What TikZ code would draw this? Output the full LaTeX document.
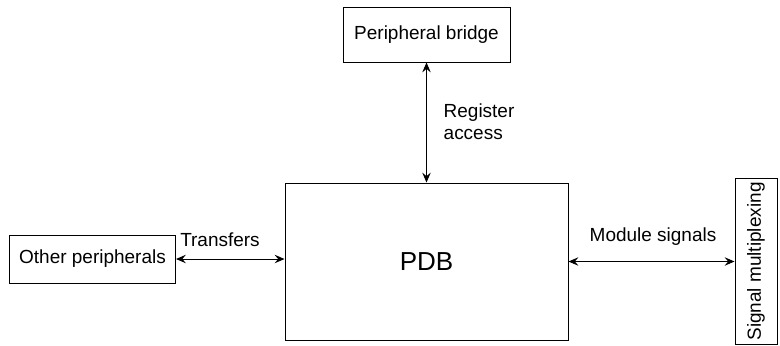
\documentclass[tikz,border=0pt]{standalone}
\usepackage{fontspec}
\setmainfont{Liberation Sans}
\usetikzlibrary{positioning,arrows.meta}
\tikzset{
	block/.style={
		rectangle,
		draw,
		line width=0.7pt,
		inner sep=2pt,
		font=\fontsize{13.5}{15}\selectfont
	},
	link/.style={
		{Stealth[length=7pt,width=6pt,inset=2.5pt]}-{Stealth[length=7pt,width=6pt,inset=2.5pt]},
		line width=0.7pt
	},
	tag/.style={
		font=\fontsize{13.5}{15.5}\selectfont,
		align=left,
		inner sep=1pt
	}
}
\begin{document}
\begin{tikzpicture}[x=0.025cm, y=-0.025cm]
	\useasboundingbox (0,0) rectangle (780,345);
	\node [block, minimum width=167*0.025cm, minimum height=55*0.025cm] (bridge) at (426.5,34.5) {Peripheral bridge};
	\node [block, minimum width=283*0.025cm, minimum height=157*0.025cm, font=\fontsize{18.5}{21}\selectfont] (pdb) at (426.5,261.5) {PDB};
	\node [block, minimum width=166*0.025cm, minimum height=48*0.025cm] (other) at (92.5,259) {Other peripherals};
	\node [block, rotate=90, minimum width=166*0.025cm, minimum height=42*0.025cm] (sigmux) at (756,261.5) {Signal multiplexing};
	\draw [link] (bridge.south) -- (pdb.north);
	\draw [link] (other.east) -- (other.east -| pdb.west);
	\draw [link] (pdb.east) -- (pdb.east -| sigmux.north);
	\node [tag, anchor=west] (regacc) at (442,122) {Register\\access};
	\node [tag] (xfer) at (220,240) {Transfers};
	\node [tag] (modsig) at (653,237) {Module signals};
\end{tikzpicture}
\end{document}
